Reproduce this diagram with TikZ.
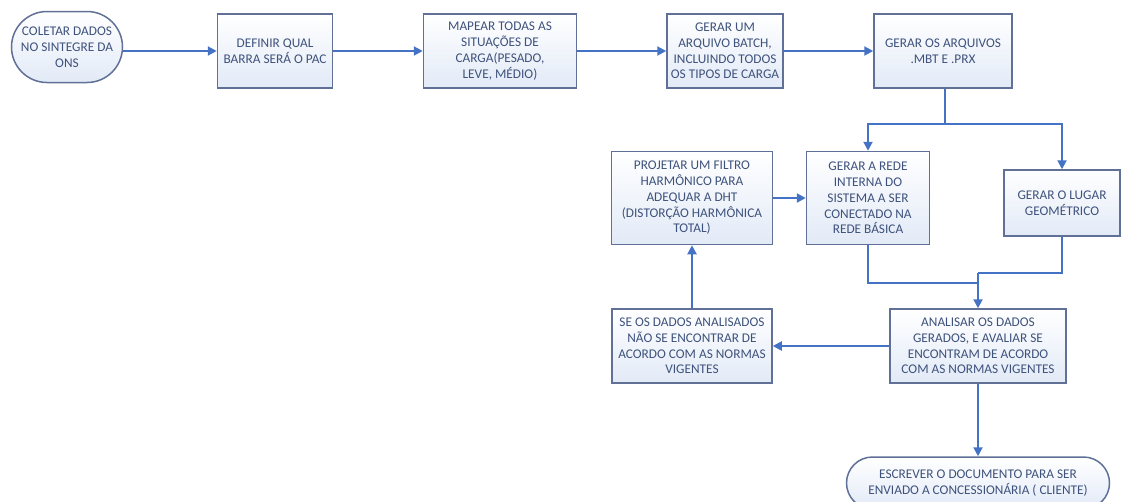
\documentclass[tikz,border=0pt]{standalone}
\usepackage{fontspec}
\setmainfont{Carlito}
\usetikzlibrary{arrows.meta,shapes.misc,positioning}
\definecolor{fline}{RGB}{68,114,196}
\definecolor{fbord}{RGB}{96,112,150}
\definecolor{ftext}{RGB}{62,82,124}
\definecolor{ffill}{RGB}{226,234,247}

\begin{document}
\begin{tikzpicture}[x=1pt,y=-1pt,
    box/.style={draw=fbord, line width=1.5pt, top color=white, bottom color=ffill,
                text=ftext, align=center, inner sep=2pt,
                font=\fontsize{13.3}{15.8}\selectfont},
    term/.style={box, rounded rectangle},
    link/.style={draw=fline, line width=2pt},
    arr/.style={link, -{Triangle[length=9pt,width=9pt]}},
]
    \useasboundingbox (0,0) rectangle (1121,501);

    % linha de cima
    \node[term, minimum width=115pt, minimum height=71pt] (coleta) at (67,47)
        {COLETAR DADOS\\NO SINTEGRE DA\\ONS};
    \node[box, minimum width=115pt, minimum height=74pt] (pac) at (275,51)
        {DEFINIR QUAL\\BARRA SERÁ O PAC};
    \node[box, minimum width=153pt, minimum height=74pt] (carga) at (500,51)
        {MAPEAR TODAS AS\\SITUAÇÕES DE\\CARGA(PESADO,\\LEVE, MÉDIO)};
    \node[box, minimum width=116pt, minimum height=74pt] (batch) at (725,51)
        {GERAR UM\\ARQUIVO BATCH,\\INCLUINDO TODOS\\OS TIPOS DE CARGA};
    \node[box, minimum width=138pt, minimum height=74pt] (arqs) at (943,51)
        {GERAR OS ARQUIVOS\\.MBT E .PRX};

    % meio
    \node[box, minimum width=161pt, minimum height=93pt] (filtro) at (692,198)
        {PROJETAR UM FILTRO\\HARMÔNICO PARA\\ADEQUAR A DHT\\(DISTORÇÃO HARMÔNICA\\TOTAL)};
    \node[box, minimum width=123pt, minimum height=93pt] (rede) at (868,198)
        {GERAR A REDE\\INTERNA DO\\SISTEMA A SER\\CONECTADO NA\\REDE BÁSICA};
    \node[box, minimum width=116pt, minimum height=66pt] (lugar) at (1062,203)
        {GERAR O LUGAR\\GEOMÉTRICO};

    \node[box, minimum width=160pt, minimum height=74pt] (fora) at (692,346)
        {SE OS DADOS ANALISADOS\\NÃO SE ENCONTRAR DE\\ACORDO COM AS NORMAS\\VIGENTES};
    \node[box, minimum width=176pt, minimum height=74pt] (analise) at (978,346)
        {ANALISAR OS DADOS\\GERADOS, E AVALIAR SE\\ENCONTRAM DE ACORDO\\COM AS NORMAS VIGENTES};
    \node[term, minimum width=267pt, minimum height=52pt] (doc) at (978,483)
        {ESCREVER O DOCUMENTO PARA SER\\ENVIADO A CONCESSIONÁRIA ( CLIENTE)};

    \coordinate (split) at (945,124);
    \coordinate (junta) at (978,273);
    \coordinate (junta2) at (978,283);

    \draw[arr] (coleta.east |- pac.west) -- (pac.west);
    \foreach \a/\b in {pac/carga, carga/batch, batch/arqs}
    {   \draw[arr] (\a.east) -- (\b.west);
    }

    \draw[link] (arqs.south -| split) -- (split);
    \draw[arr] (split) -| (rede.north);
    \draw[arr] (split) -| (lugar.north);

    \draw[link] (rede.south) |- (junta2);
    \draw[link] (lugar.south) |- (junta);
    \draw[arr] (junta) -- (analise.north);

    \draw[arr] (filtro.east) -- (rede.west);
    \draw[arr] (analise.west) -- (fora.east);
    \draw[arr] (fora.north) -- (filtro.south);
    \draw[arr] (analise.south) -- (doc.north);

\end{tikzpicture}
\end{document}
